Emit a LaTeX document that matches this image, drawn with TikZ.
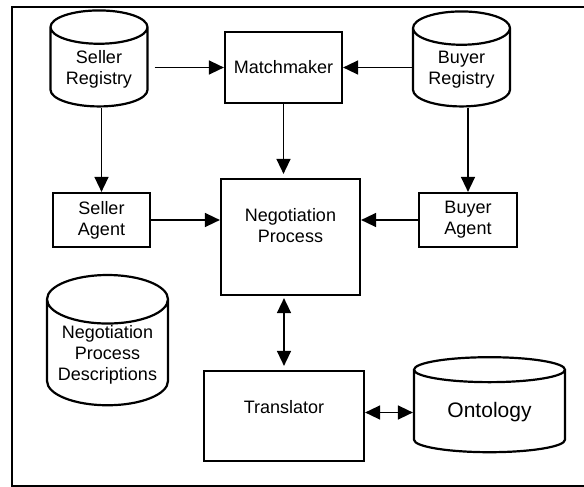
\documentclass[tikz,border=0pt]{standalone}
\usepackage{fontspec}
\setmainfont{Liberation Sans}
\usetikzlibrary{shapes.geometric,arrows.meta}

\tikzset{
  box/.style={draw, line width=2.2pt, inner sep=1pt, align=center, font=\fontsize{18}{21}\selectfont},
  store/.style={draw, cylinder, shape border rotate=90, line width=2.2pt, inner sep=1pt, align=center, font=\fontsize{18}{21}\selectfont},
  arr/.style={line width=1.5pt, -{Triangle[length=15pt,width=14pt]}},
  darr/.style={line width=1.5pt, {Triangle[length=15pt,width=14pt]}-{Triangle[length=15pt,width=14pt]}}
}

\begin{document}
\begin{tikzpicture}[x=1pt, y=-1pt]
\useasboundingbox (0,0) rectangle (584,487);
\draw[line width=2.2pt] (12,7) rectangle (600,486);
% stores
\node[store, minimum width=97, minimum height=96, aspect=0.49] (selreg) at (99,69) {Seller\\Registry};
\node[store, minimum width=97, minimum height=95, aspect=0.49] (buyreg) at (461.5,69.5) {Buyer\\Registry};
\node[store, minimum width=121, minimum height=120, aspect=0.48] (npdesc) at (107.5,355) {Negotiation\\Process\\Descriptions};
\node[store, minimum width=151, minimum height=95, aspect=0.29, font=\fontsize{21}{24}\selectfont] (onto) at (489.5,412.5) {Ontology};
% boxes
\node[box, minimum width=117, minimum height=71] (match) at (283.5,67.5) {Matchmaker};
\node[box, minimum width=97, minimum height=54] (selag) at (101.5,220) {Seller\\Agent};
\node[box, minimum width=98, minimum height=54] (buyag) at (468,220) {Buyer\\Agent};
\node[box, minimum width=139, minimum height=116] (np) at (290.5,237) {};
\node[box, draw=none] (nptext) at (290.5,226) {Negotiation\\Process};
\node[box, minimum width=160, minimum height=90] (trans) at (284,416) {};
\node[box, draw=none] (transtext) at (284,407) {Translator};
% connectors
\draw[arr] ([xshift=6pt]selreg.east |- match.west) -- (match.west);
\draw[arr] (buyreg.west |- match.east) -- (match.east);
\draw[arr, shorten >=4pt] (match.south) -- (match.south |- np.north);
\draw[arr] (selreg.south -| selag.north) -- (selag.north);
\draw[arr] (buyreg.south -| buyag.north) -- (buyag.north);
\draw[arr] (selag.east) -- (selag.east -| np.west);
\draw[arr] (buyag.west) -- (buyag.west -| np.east);
\draw[darr, shorten <=2pt, shorten >=4pt] (trans.north |- np.south) -- (trans.north);
\draw[darr] (trans.east |- onto.west) -- (onto.west);
\end{tikzpicture}
\end{document}
